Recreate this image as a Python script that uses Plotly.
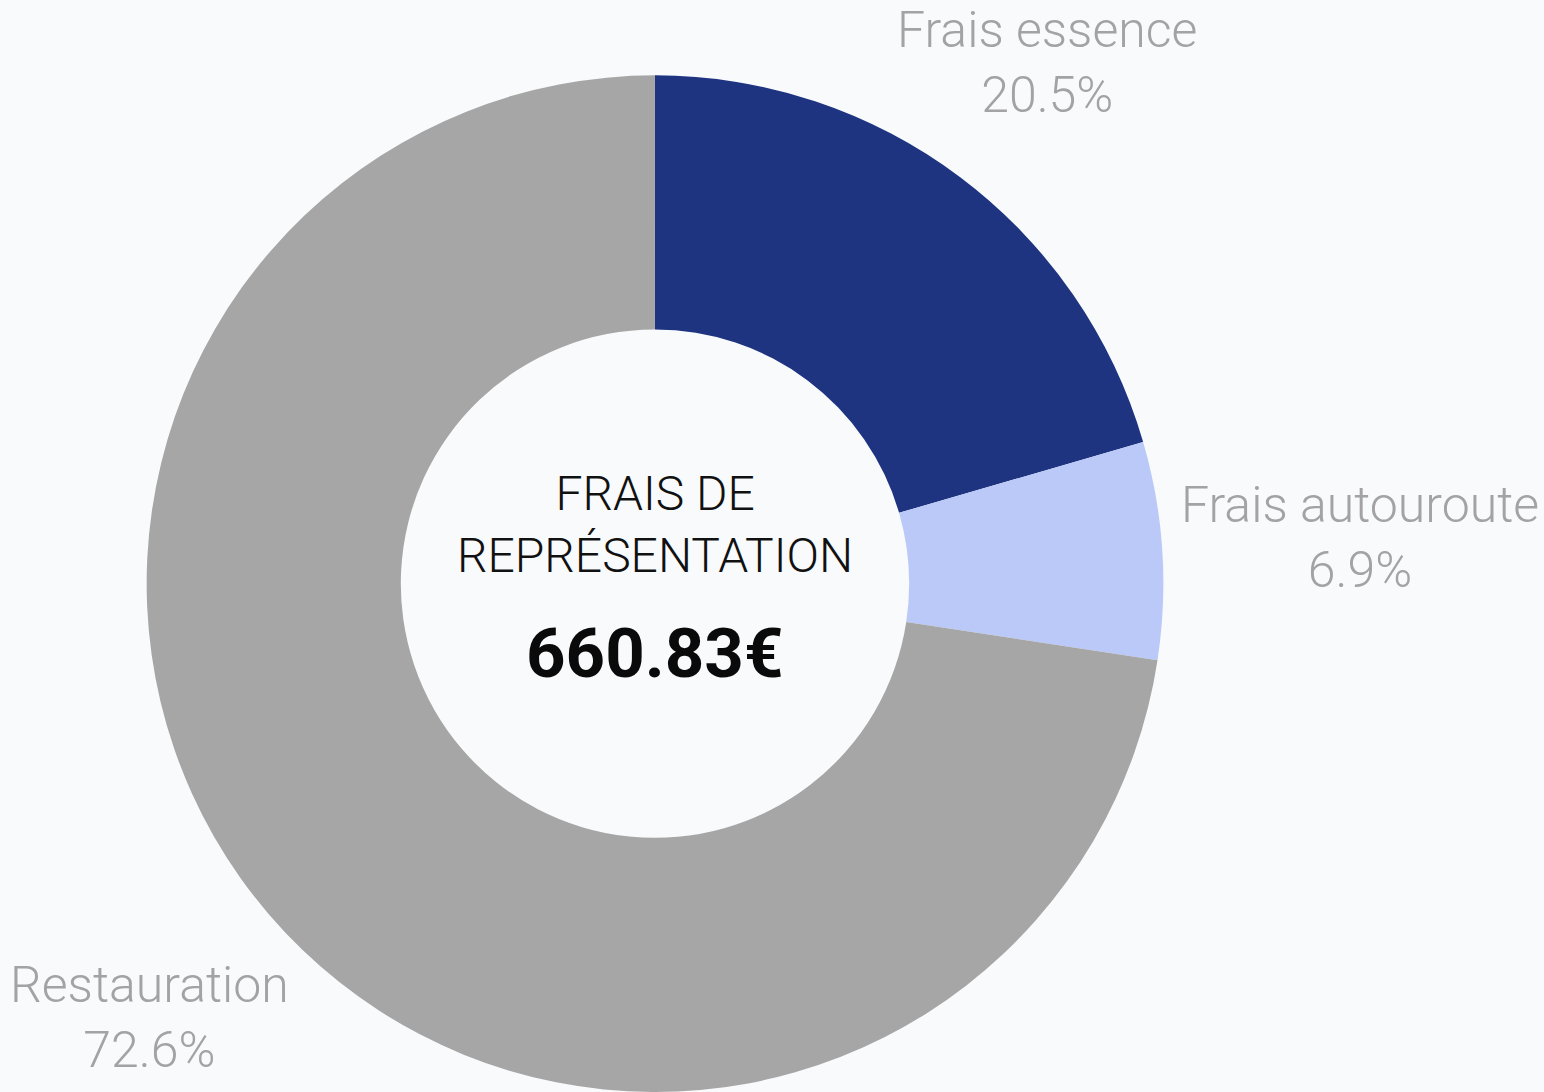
import math
import plotly.graph_objects as go

# données
categories = ["Frais essence", "Frais autouroute", "Restauration"]
montants = [135.50, 45.60, 479.73]
titre_centre = ["FRAIS DE", "REPRÉSENTATION"]

NAVY = "#1e3480"
LIGHT = "#bac9f7"
GRAY = "#a6a6a6"
BG = "#f8fafc"
TXT = "#a3a3a3"

W, H = 1544, 1092
DOM_X = [0.0939, 0.7545]
DOM_Y = [0.0, 0.931]
# distance des étiquettes (en rayons) depuis le centre
LABEL_DIST = [1.283, 1.39, 1.31]

total = sum(montants)

fig = go.Figure()

fig.add_trace(go.Pie(
    labels=categories,
    values=montants,
    hole=0.5,
    sort=False,
    direction="clockwise",
    rotation=0,
    marker=dict(colors=[NAVY, LIGHT, GRAY], line=dict(width=0)),
    textinfo="none",
    domain=dict(x=DOM_X, y=DOM_Y),
    showlegend=False,
    hoverinfo="label+value+percent",
))

# étiquettes extérieures, placées sur l'angle médian de chaque part
cx = (DOM_X[0] + DOM_X[1]) / 2 * W
cy = (DOM_Y[0] + DOM_Y[1]) / 2 * H          # depuis le bas
r = min((DOM_X[1] - DOM_X[0]) * W, (DOM_Y[1] - DOM_Y[0]) * H) / 2
cum = 0
for lab, val, d in zip(categories, montants, LABEL_DIST):
    frac = val / total
    ang = 2 * math.pi * (cum + frac / 2)
    cum += frac
    px = cx + d * r * math.sin(ang)
    py = cy + d * r * math.cos(ang)
    fig.add_annotation(
        x=px / W, y=py / H, xref="paper", yref="paper",
        text=f"{lab}<br>{frac * 100:.1f}%",
        showarrow=False, align="center", xanchor="center", yanchor="middle",
        font=dict(family="Roboto", size=50, color=TXT, weight=300),
    )

# texte central
fig.add_annotation(
    x=cx / W, y=(H - 524) / H, xref="paper", yref="paper",
    text=titre_centre[0] + "<br>" + titre_centre[1],
    showarrow=False, align="center", yanchor="middle",
    font=dict(family="Roboto", size=48, color="#111111", weight=300),
)
fig.add_annotation(
    x=cx / W, y=(H - 653) / H, xref="paper", yref="paper",
    text=f"<b>{total:.2f}€</b>",
    showarrow=False, align="center", yanchor="middle",
    font=dict(family="Roboto", size=69, color="#0a0a0a"),
)

fig.update_layout(
    width=W, height=H,
    margin=dict(l=0, r=0, t=0, b=0),
    paper_bgcolor=BG,
    plot_bgcolor=BG,
)

fig.write_html(
    "out.html",
    config={"displayModeBar": False},
    post_script="document.body.style.margin='0';document.body.style.background='" + BG + "';",
)
